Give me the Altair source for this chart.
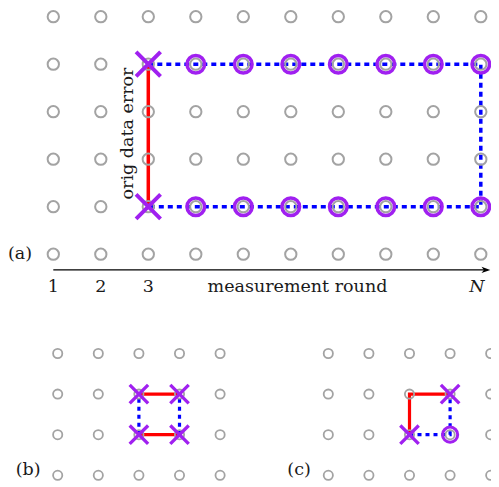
import altair as alt
import pandas as pd

# ---------------- data ----------------
# Panel (a): grid of measurement rounds (columns) x data positions (rows, 0 = bottom)
a_grid_cols = list(range(1, 11))
a_grid_rows = list(range(0, 6))
a_meas_cols = [4, 5, 6, 7, 8, 9, 10]      # purple circles
a_meas_rows = [4, 1]
a_err_cols = [3, 3]                        # purple crosses
a_err_rows = [4, 1]
a_red_cols = [3, 3]                        # red error line
a_red_rows = [1, 4]
a_blue_cols = [3, 10, 10, 3]               # blue dashed path
a_blue_rows = [4, 4, 1, 1]
a_tick_labels = ["1", "2", "3", "N"]
a_tick_cols = [1, 2, 3, 9.92]
a_axis_title = "measurement round"
a_axis_title_col = 6.14
a_label_row = -0.68
a_arrow_cols = [1, 10.14]
a_arrow_row = -0.33
a_arrow_tip_col = 10.2
a_side_label = "orig data error"
a_side_col = 2.57
a_side_row = 2.54
a_panel_label = "(a)"
a_panel_col = 0.3
a_panel_row = 0.0

# Panel (b)
b_grid_cols = list(range(1, 6))
b_grid_rows = list(range(0, 4))
b_err_cols = [3, 4, 3, 4]
b_err_rows = [2, 2, 1, 1]
b_red_cols = [3, 4, 3, 4]
b_red_rows = [2, 2, 1, 1]
b_red_seg = [0, 0, 1, 1]
b_blue_cols = [3, 3, 4, 4]
b_blue_rows = [1, 2, 1, 2]
b_blue_seg = [0, 0, 1, 1]
b_panel_label = "(b)"
b_panel_col = 0.27
b_panel_row = 0.12

# Panel (c)
c_grid_cols = list(range(1, 6))
c_grid_rows = list(range(0, 4))
c_err_cols = [4, 3]
c_err_rows = [2, 1]
c_meas_cols = [4]
c_meas_rows = [1]
c_red_cols = [3, 3, 4]
c_red_rows = [1, 2, 2]
c_blue_cols = [3, 4, 4]
c_blue_rows = [1, 1, 2]
c_panel_label = "(c)"
c_panel_col = 0.28
c_panel_row = 0.12

# ---------------- styling ----------------
GRAY = "#a3a3a3"
PURPLE = "#a020f0"
RED = "#ff0000"
BLUE = "#0000ff"
INK = "#1a1a1a"
FONT = "DejaVu Serif"
FS = 17.5
XPATH = "M-1,-1L1,1M-1,1L1,-1"
ARROW = "M0,0L-2.2,-0.8L-1.6,0L-2.2,0.8Z"

W, H = 483, 476

# panel scale placements (pixels inside the plot area)
PANELS = {
    "a": dict(xd=[1, 10], xr=[45.3, 472.8], yd=[0, 5], yr=[246.2, 8.7]),
    "b": dict(xd=[1, 5], xr=[49.7, 212.1], yd=[0, 3], yr=[467.3, 345.5]),
    "c": dict(xd=[1, 5], xr=[320.3, 482.7], yd=[0, 3], yr=[467.3, 345.5]),
}


def enc(p, **extra):
    s = PANELS[p]
    return dict(
        x=alt.X("x:Q", scale=alt.Scale(domain=s["xd"], range=s["xr"], nice=False, zero=False), axis=None),
        y=alt.Y("y:Q", scale=alt.Scale(domain=s["yd"], range=s["yr"], nice=False, zero=False), axis=None),
        **extra,
    )


def grid_df(cols, rows):
    return pd.DataFrame([{"x": c, "y": r} for r in rows for c in cols])


def pts(cols, rows):
    return pd.DataFrame({"x": cols, "y": rows})


def label(p, col, row, txt, **kw):
    return (alt.Chart(pd.DataFrame({"x": [col], "y": [row], "t": [txt]}))
            .mark_text(font=FONT, fontSize=FS, align="center", baseline="middle", color=INK, **kw)
            .encode(**enc(p, text="t:N")))


layers = []

# ---- panel (a) ----
layers.append(alt.Chart(pd.DataFrame({"x": a_red_cols, "y": a_red_rows, "i": [0, 1]}))
              .mark_line(color=RED, strokeWidth=3.5)
              .encode(**enc("a", order="i:Q")))
layers.append(alt.Chart(pd.DataFrame({"x": a_blue_cols, "y": a_blue_rows, "i": [0, 1, 2, 3]}))
              .mark_line(color=BLUE, strokeWidth=3.5, strokeDash=[5, 4])
              .encode(**enc("a", order="i:Q")))
layers.append(alt.Chart(grid_df(a_grid_cols, a_grid_rows))
              .mark_point(shape="circle", filled=False, color=GRAY, strokeWidth=2, size=128, opacity=1)
              .encode(**enc("a")))
layers.append(alt.Chart(grid_df(a_meas_cols, a_meas_rows))
              .mark_point(shape="circle", filled=False, color=PURPLE, strokeWidth=3.5, size=310, opacity=1)
              .encode(**enc("a")))
layers.append(alt.Chart(pts(a_err_cols, a_err_rows))
              .mark_point(shape=XPATH, filled=False, color=PURPLE, strokeWidth=4, size=600, opacity=1)
              .encode(**enc("a")))
# axis arrow
layers.append(alt.Chart(pd.DataFrame({"x": a_arrow_cols, "y": [a_arrow_row] * 2, "i": [0, 1]}))
              .mark_line(color="black", strokeWidth=1.3)
              .encode(**enc("a", order="i:Q")))
layers.append(alt.Chart(pts([a_arrow_tip_col], [a_arrow_row]))
              .mark_point(shape=ARROW, filled=True, color="black", size=64, opacity=1)
              .encode(**enc("a")))
# texts
for col, txt in zip(a_tick_cols[:3], a_tick_labels[:3]):
    layers.append(label("a", col, a_label_row, txt))
layers.append(label("a", a_tick_cols[3], a_label_row, a_tick_labels[3], fontStyle="italic"))
layers.append(label("a", a_axis_title_col, a_label_row, a_axis_title))
layers.append(label("a", a_side_col, a_side_row, a_side_label, angle=270))
layers.append(label("a", a_panel_col, a_panel_row, a_panel_label))

# ---- panel (b) ----
layers.append(alt.Chart(pd.DataFrame({"x": b_red_cols, "y": b_red_rows, "g": b_red_seg}))
              .mark_line(color=RED, strokeWidth=3.2)
              .encode(**enc("b", detail="g:N")))
layers.append(alt.Chart(pd.DataFrame({"x": b_blue_cols, "y": b_blue_rows, "g": b_blue_seg}))
              .mark_line(color=BLUE, strokeWidth=3.2, strokeDash=[4, 4])
              .encode(**enc("b", detail="g:N", order="y:Q")))
layers.append(alt.Chart(grid_df(b_grid_cols, b_grid_rows))
              .mark_point(shape="circle", filled=False, color=GRAY, strokeWidth=1.8, size=85, opacity=1)
              .encode(**enc("b")))
layers.append(alt.Chart(pts(b_err_cols, b_err_rows))
              .mark_point(shape=XPATH, filled=False, color=PURPLE, strokeWidth=3.3, size=340, opacity=1)
              .encode(**enc("b")))
layers.append(label("b", b_panel_col, b_panel_row, b_panel_label))

# ---- panel (c) ----
layers.append(alt.Chart(pd.DataFrame({"x": c_red_cols, "y": c_red_rows, "i": [0, 1, 2]}))
              .mark_line(color=RED, strokeWidth=3.2)
              .encode(**enc("c", order="i:Q")))
layers.append(alt.Chart(pd.DataFrame({"x": c_blue_cols, "y": c_blue_rows, "i": [0, 1, 2]}))
              .mark_line(color=BLUE, strokeWidth=3.2, strokeDash=[4, 4])
              .encode(**enc("c", order="i:Q")))
layers.append(alt.Chart(grid_df(c_grid_cols, c_grid_rows))
              .mark_point(shape="circle", filled=False, color=GRAY, strokeWidth=1.8, size=85, opacity=1)
              .encode(**enc("c")))
layers.append(alt.Chart(pts(c_meas_cols, c_meas_rows))
              .mark_point(shape="circle", filled=False, color=PURPLE, strokeWidth=3, size=230, opacity=1)
              .encode(**enc("c")))
layers.append(alt.Chart(pts(c_err_cols, c_err_rows))
              .mark_point(shape=XPATH, filled=False, color=PURPLE, strokeWidth=3.3, size=340, opacity=1)
              .encode(**enc("c")))
layers.append(label("c", c_panel_col, c_panel_row, c_panel_label))

chart = (
    alt.layer(*layers)
    .resolve_scale(x="independent", y="independent")
    .properties(width=W, height=H, padding=0, autosize=alt.AutoSizeParams(type="none"))
    .configure_view(strokeWidth=0)
)

chart.save("out.html", embed_options={"renderer": "svg", "actions": False})
